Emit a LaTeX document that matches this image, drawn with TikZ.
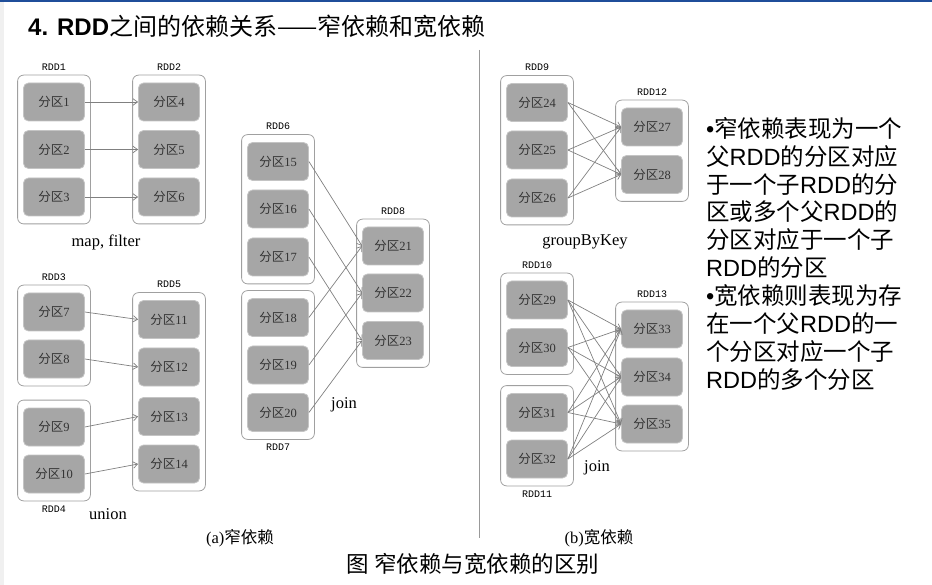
\documentclass[tikz,border=0pt]{standalone}
\usepackage{fontspec}
\setmainfont{Liberation Serif}
\newfontfamily\cjk{Noto Sans CJK SC}
\newfontfamily\arialfont{Liberation Sans}
\newfontfamily\monofont{Liberation Mono}
\usetikzlibrary{arrows.meta, positioning, fit}
\definecolor{partgray}{HTML}{A6A6A6}
\definecolor{partedge}{HTML}{C4C4C4}
\definecolor{boxedge}{HTML}{A0A0A0}
\definecolor{arrowgray}{HTML}{808080}
\definecolor{topblue}{HTML}{1F4E9A}
\newcommand{\fq}[1]{{\cjk 分区}#1}
\newcommand{\rddtxt}{{\arialfont RDD}}
\tikzset{partition/.style = {
  % Rectangle:
  rectangle, rounded corners=5pt,
  fill=partgray, draw=partedge, line width=0.8pt,
  minimum width=61pt, minimum height=38pt,
  % Text:
  text=black!80,
  font=\fontsize{12.5}{14}\selectfont
  }}
\tikzset{rdd/.style = {
  % Rectangle:
  rectangle, rounded corners=6pt,
  draw=boxedge, fill=white, line width=0.8pt,
  inner xsep=5.5pt, inner ysep=7.5pt
  }}
\tikzset{rddname/.style = {
  % Text:
  font=\monofont\fontsize{10}{12}\selectfont,
  inner sep=1pt
  }}
\tikzset{op/.style = {
  % Text:
  font=\fontsize{16.5}{18}\selectfont,
  inner sep=0pt
  }}
\tikzset{arrow/.style = {
  -{Straight Barb[length=4.5pt,width=6.5pt]},
  draw=arrowgray,
  line width=0.7pt
  }}

\begin{document}
\begin{tikzpicture}[x=1pt, y=1pt]
  % LAYERS
  \pgfdeclarelayer{bg}
  \pgfsetlayers{bg,main}
  \useasboundingbox (0,0) rectangle (932,-585);
  \fill [black!6] (0,0) rectangle (4,-585);
  \fill [topblue] (0,0) rectangle (932,-2.5);

  %
  % Title and captions
  %
  \node (title) [anchor=west, inner sep=0pt, font=\fontsize{24}{27}\selectfont] at (28,-26)
    {{\arialfont\bfseries 4. RDD}{\cjk 之间的依赖关系——窄依赖和宽依赖}};
  \node (capa) [op] at (240,-538) {(a){\cjk 窄依赖}};
  \node (capb) [op] at (599,-538) {(b){\cjk 宽依赖}};
  \node (caption) [font=\cjk\fontsize{22.5}{24}\selectfont] at (473,-564) {图 窄依赖与宽依赖的区别};
  \coordinate (divtop) at (479,-50);
  \coordinate (divbot) at (479,-538);
  \draw [black!40, line width=0.8pt] (divtop) -- (divbot);

  %
  % Specification of nodes
  %
  % map, filter
  \node (p1) [partition] at (54,-102) {\fq{1}};
  \node (p2) [partition] at (54,-149.5) {\fq{2}};
  \node (p3) [partition] at (54,-197) {\fq{3}};
  \node (p4) [partition] at (169,-102) {\fq{4}};
  \node (p5) [partition] at (169,-149.5) {\fq{5}};
  \node (p6) [partition] at (169,-197) {\fq{6}};
  % union
  \node (p7) [partition] at (54,-312) {\fq{7}};
  \node (p8) [partition] at (54,-359) {\fq{8}};
  \node (p9) [partition] at (54,-427) {\fq{9}};
  \node (p10) [partition] at (54,-474) {\fq{10}};
  \node (p11) [partition] at (169,-319.5) {\fq{11}};
  \node (p12) [partition] at (169,-367) {\fq{12}};
  \node (p13) [partition] at (169,-416.5) {\fq{13}};
  \node (p14) [partition] at (169,-464) {\fq{14}};
  % join (narrow)
  \node (p15) [partition] at (278,-161.5) {\fq{15}};
  \node (p16) [partition] at (278,-209) {\fq{16}};
  \node (p17) [partition] at (278,-257) {\fq{17}};
  \node (p18) [partition] at (278,-317.5) {\fq{18}};
  \node (p19) [partition] at (278,-365) {\fq{19}};
  \node (p20) [partition] at (278,-412.5) {\fq{20}};
  \node (p21) [partition] at (393,-246) {\fq{21}};
  \node (p22) [partition] at (393,-293) {\fq{22}};
  \node (p23) [partition] at (393,-340.5) {\fq{23}};
  % groupByKey
  \node (p24) [partition] at (537,-102.5) {\fq{24}};
  \node (p25) [partition] at (537,-150) {\fq{25}};
  \node (p26) [partition] at (537,-198) {\fq{26}};
  \node (p27) [partition] at (652,-127) {\fq{27}};
  \node (p28) [partition] at (652,-174.5) {\fq{28}};
  % join (wide)
  \node (p29) [partition] at (537,-300) {\fq{29}};
  \node (p30) [partition] at (537,-347.5) {\fq{30}};
  \node (p31) [partition] at (537,-412.5) {\fq{31}};
  \node (p32) [partition] at (537,-459) {\fq{32}};
  \node (p33) [partition] at (652,-329) {\fq{33}};
  \node (p34) [partition] at (652,-377) {\fq{34}};
  \node (p35) [partition] at (652,-424) {\fq{35}};

  %
  % Background
  %
  \begin{pgfonlayer}{bg}
    \node (r1) [rdd, fit=(p1) (p3)] {};
    \node (r2) [rdd, fit=(p4) (p6)] {};
    \node (r3) [rdd, fit=(p7) (p8)] {};
    \node (r4) [rdd, fit=(p9) (p10)] {};
    \node (r5) [rdd, fit=(p11) (p14)] {};
    \node (r6) [rdd, fit=(p15) (p17)] {};
    \node (r7) [rdd, fit=(p18) (p20)] {};
    \node (r8) [rdd, fit=(p21) (p23)] {};
    \node (r9) [rdd, fit=(p24) (p26)] {};
    \node (r12) [rdd, fit=(p27) (p28)] {};
    \node (r10) [rdd, fit=(p29) (p30)] {};
    \node (r11) [rdd, fit=(p31) (p32)] {};
    \node (r13) [rdd, fit=(p33) (p35)] {};
  \end{pgfonlayer}

  \node (n1) [rddname, above = 3pt of r1] {RDD1};
  \node (n2) [rddname, above = 3pt of r2] {RDD2};
  \node (n3) [rddname, above = 3pt of r3] {RDD3};
  \node (n4) [rddname, below = 3pt of r4] {RDD4};
  \node (n5) [rddname, above = 3pt of r5] {RDD5};
  \node (n6) [rddname, above = 3pt of r6] {RDD6};
  \node (n7) [rddname, below = 3pt of r7] {RDD7};
  \node (n8) [rddname, above = 3pt of r8] {RDD8};
  \node (n9) [rddname, above = 3pt of r9] {RDD9};
  \node (n10) [rddname, above = 3pt of r10] {RDD10};
  \node (n11) [rddname, below = 3pt of r11] {RDD11};
  \node (n12) [rddname, above = 3pt of r12] {RDD12};
  \node (n13) [rddname, above = 3pt of r13] {RDD13};

  \node (mapfilter) [op] at (106,-242) {map, filter};
  \node (union) [op] at (108,-514) {union};
  \node (join1) [op] at (344,-405) {join};
  \node (groupbykey) [op] at (585,-242) {groupByKey};
  \node (join2) [op] at (597,-468) {join};

  \node (note) [anchor=north west, align=left, inner sep=0pt,
    font=\cjk\fontsize{23.5}{27.9}\selectfont] at (706,-117)
    {{\arialfont •}窄依赖表现为一个\\父\rddtxt 的分区对应\\于一个子\rddtxt 的分\\区或多个父\rddtxt 的\\分区对应于一个子\\\rddtxt 的分区\\
     {\arialfont •}宽依赖则表现为存\\在一个父\rddtxt 的一\\个分区对应一个子\\\rddtxt 的多个分区};

  %
  % Specification of lines
  %
  \draw [arrow] (p1.east) -- (p4.west);
  \draw [arrow] (p2.east) -- (p5.west);
  \draw [arrow] (p3.east) -- (p6.west);

  \draw [arrow] (p7.east) -- (p11.west);
  \draw [arrow] (p8.east) -- (p12.west);
  \draw [arrow] (p9.east) -- (p13.west);
  \draw [arrow] (p10.east) -- (p14.west);

  \draw [arrow] (p15.east) -- (p21.west);
  \draw [arrow] (p16.east) -- (p22.west);
  \draw [arrow] (p17.east) -- (p23.west);
  \draw [arrow] (p18.east) -- (p21.west);
  \draw [arrow] (p19.east) -- (p22.west);
  \draw [arrow] (p20.east) -- (p23.west);

  \draw [arrow] (p24.east) -- (p27.west);
  \draw [arrow] (p24.east) -- (p28.west);
  \draw [arrow] (p25.east) -- (p27.west);
  \draw [arrow] (p25.east) -- (p28.west);
  \draw [arrow] (p26.east) -- (p27.west);
  \draw [arrow] (p26.east) -- (p28.west);

  \draw [arrow] (p29.east) -- (p33.west);
  \draw [arrow] (p29.east) -- (p34.west);
  \draw [arrow] (p29.east) -- (p35.west);
  \draw [arrow] (p30.east) -- (p33.west);
  \draw [arrow] (p30.east) -- (p34.west);
  \draw [arrow] (p30.east) -- (p35.west);
  \draw [arrow] (p31.east) -- (p33.west);
  \draw [arrow] (p31.east) -- (p34.west);
  \draw [arrow] (p31.east) -- (p35.west);
  \draw [arrow] (p32.east) -- (p33.west);
  \draw [arrow] (p32.east) -- (p34.west);
  \draw [arrow] (p32.east) -- (p35.west);
\end{tikzpicture}
\end{document}
